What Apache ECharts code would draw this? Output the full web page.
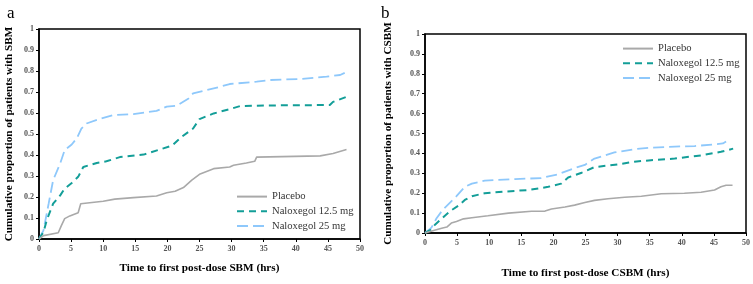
<!DOCTYPE html>
<html><head><meta charset="utf-8">
<script src="https://cdn.jsdelivr.net/npm/echarts@6/dist/echarts.min.js"></script>
<style>html,body{margin:0;padding:0;background:#fff}#c{width:753px;height:284px}</style>
</head><body><div id="c"></div>
<script>
// Panel a: SBM
const aPlaceboX = [0,0.7,3.0,3.5,4.0,4.8,6.1,6.5,10,11.8,14.7,18.3,19.9,21.2,22.5,23.8,25.1,27.2,29.7,30.3,32.3,33.6,33.9,43.8,45.8,47.9];
const aPlaceboY = [0,0.016,0.03,0.065,0.097,0.11,0.125,0.168,0.18,0.19,0.197,0.205,0.22,0.227,0.245,0.28,0.31,0.335,0.343,0.351,0.362,0.37,0.39,0.396,0.407,0.426];
const a125X = [0,0.7,1.2,2.2,3.3,4.0,5.1,6.1,6.9,9.0,10.5,12.6,16.3,18.8,20.7,22.2,24.0,25.0,27.2,29.7,31.3,35.5,45.3,45.8,47.9];
const a125Y = [0,0.033,0.089,0.168,0.208,0.24,0.267,0.296,0.343,0.362,0.37,0.39,0.402,0.426,0.444,0.486,0.526,0.571,0.598,0.618,0.633,0.636,0.638,0.653,0.677];
const a25X = [0,0.7,1.5,2.2,3.3,4.0,5.1,5.9,6.6,7.4,9.5,11.6,14.7,18.3,19.9,21.4,23.3,24.0,26.1,28.2,29.7,33.9,36,40.7,44.8,46.9,47.7];
const a25Y = [0,0.041,0.168,0.28,0.36,0.423,0.45,0.48,0.526,0.55,0.572,0.59,0.595,0.61,0.63,0.634,0.669,0.693,0.709,0.725,0.738,0.749,0.757,0.762,0.773,0.781,0.792];
// Panel b: CSBM
const bPlaceboX = [0,0.8,2.6,3.4,4.1,4.9,6.0,7.3,9.8,13,16.6,18.7,19.7,21.8,23.3,24.9,26.4,28.5,31.1,33.7,36.8,40.4,43,45.1,46.1,46.9,47.9];
const bPlaceboY = [0,0.008,0.024,0.03,0.05,0.058,0.071,0.077,0.087,0.1,0.109,0.11,0.121,0.131,0.14,0.153,0.164,0.172,0.18,0.185,0.197,0.2,0.205,0.216,0.232,0.24,0.24];
const b125X = [0,0.8,1.6,3.1,4.1,5.2,6.2,7.3,9.3,12.4,16.1,19.2,21.2,22.3,24.4,26.4,30.1,32.6,35.2,38.9,43,46.1,48];
const b125Y = [0,0.014,0.043,0.087,0.114,0.137,0.166,0.185,0.2,0.208,0.216,0.232,0.248,0.279,0.303,0.331,0.345,0.358,0.366,0.374,0.39,0.408,0.424];
const b25X = [0,1,1.8,2.8,3.9,4.9,6.2,7.3,9.3,14,18.1,20.7,23.3,24.9,26.4,29.5,32.6,35.2,38.9,42,45.1,46.4,46.9];
const b25Y = [0,0.027,0.074,0.118,0.153,0.185,0.232,0.248,0.263,0.271,0.276,0.295,0.326,0.342,0.374,0.405,0.421,0.429,0.434,0.437,0.445,0.45,0.46];
const seriesNames = ['Placebo','Naloxegol 12.5 mg','Naloxegol 25 mg'];
const xTitles = ['Time to first post-dose SBM (hrs)','Time to first post-dose CSBM (hrs)'];
const yTitles = ['Cumulative proportion of patients with SBM','Cumulative proportion of patients with CSBM'];
const panelLabels = ['a','b'];

const zip = (xs, ys) => xs.map((x,i)=>[x, ys[i]]);
const FONT = '"Liberation Serif","Times New Roman",serif';
const colors = ['#a9a9a9','#139e98','#8ec8fb'];
const styles = [
  {width:1.6, type:'solid'},
  {width:2, type:[7,5]},
  {width:1.8, type:[11,5]}
];
const panels = [
  [aPlaceboX,aPlaceboY,a125X,a125Y,a25X,a25Y],
  [bPlaceboX,bPlaceboY,b125X,b125Y,b25X,b25Y]
];
const grids = [
  {left:39, top:29, width:321, height:210},
  {left:425, top:34, width:322, height:212}
];
const xGaps = [24, 35];
const yGaps = [24, 31];
const axisCommon = {
  axisLine:{show:true, onZero:false, lineStyle:{color:'#000', width:1.5}},
  axisTick:{show:true, length:3, lineStyle:{color:'#000', width:1}},
  splitLine:{show:false},
  axisLabel:{color:'#555', fontFamily:FONT, fontWeight:'bold', fontSize:8},
  nameTextStyle:{color:'#000', fontFamily:FONT, fontWeight:'bold', fontSize:11.2}
};
const xAxes = grids.map((g,i)=>Object.assign({}, axisCommon, {
  type:'value', gridIndex:i, min:0, max:50, interval:5,
  name:xTitles[i], nameLocation:'middle', nameGap:xGaps[i],
  axisLabel:Object.assign({}, axisCommon.axisLabel, {margin:6})
}));
const yAxes = grids.map((g,i)=>Object.assign({}, axisCommon, {
  type:'value', gridIndex:i, min:0, max:1, interval:0.1,
  name:yTitles[i], nameLocation:'middle', nameGap:yGaps[i],
  axisLabel:Object.assign({}, axisCommon.axisLabel, {margin:5})
}));
const series = [];
panels.forEach((p,pi)=>{
  for(let k=0;k<3;k++){
    series.push({
      type:'line', name:seriesNames[k], xAxisIndex:pi, yAxisIndex:pi,
      data: zip(p[2*k], p[2*k+1]), symbol:'none', showSymbol:false,
      lineStyle:{color:colors[k], width:styles[k].width, type:styles[k].type},
      itemStyle:{color:colors[k]}, z: 3-k, animation:false
    });
  }
});
const legendCommon = {
  orient:'vertical', itemWidth:30, itemHeight:14, itemGap:3.5, padding:0,
  itemStyle:{opacity:0},
  textStyle:{fontFamily:FONT, fontSize:10.6, color:'#333'},
  data:seriesNames.slice(), selectedMode:false
};
const chart = echarts.init(document.getElementById('c'));
chart.setOption({
  animation:false,
  title:[
    {text:panelLabels[0], left:2, top:0, textStyle:{fontFamily:FONT, fontWeight:'normal', fontSize:17, color:'#000'}},
    {text:panelLabels[1], left:376, top:0, textStyle:{fontFamily:FONT, fontWeight:'normal', fontSize:17, color:'#000'}}
  ],
  grid: grids.map(g=>Object.assign({show:true, borderColor:'#000', borderWidth:1.5, backgroundColor:'transparent'}, g)),
  xAxis:xAxes, yAxis:yAxes, series:series,
  legend:[
    Object.assign({left:236, top:191}, legendCommon),
    Object.assign({left:622, top:43}, legendCommon)
  ]
});
</script></body></html>
